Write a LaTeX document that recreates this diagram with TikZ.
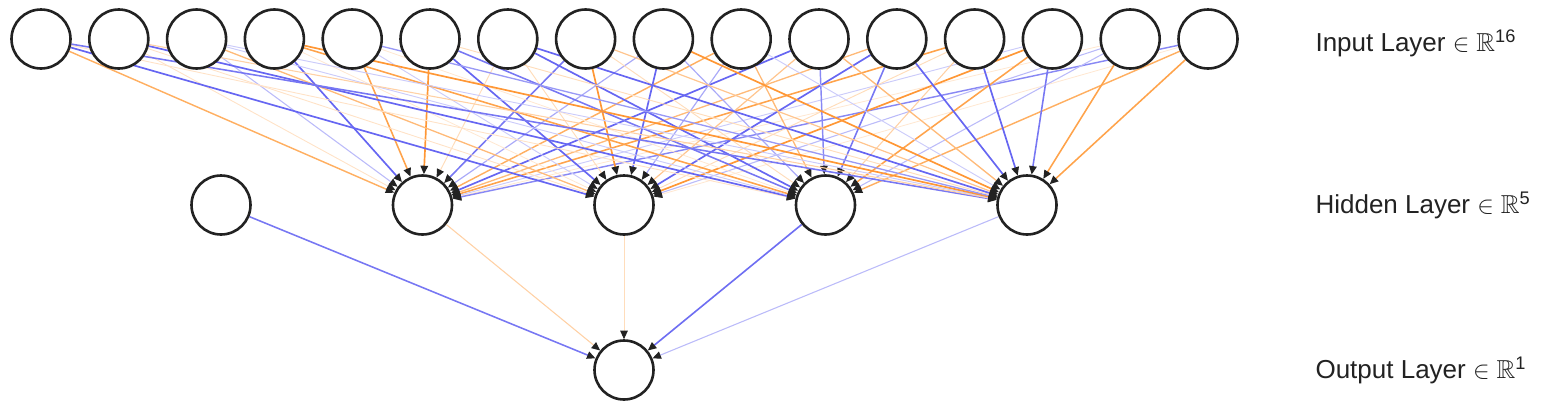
\documentclass[tikz,border=0pt]{standalone}
\usepackage{fontspec}
\setmainfont{Liberation Sans}
\usepackage{amssymb}
\usetikzlibrary{positioning,arrows.meta}
\definecolor{wpos}{RGB}{255,140,30}
\definecolor{wneg}{RGB}{85,85,240}
\definecolor{inkgray}{RGB}{34,34,34}
\pgfdeclarelayer{edges}
\pgfsetlayers{edges,main}

\begin{document}
\begin{tikzpicture}[x=1pt, y=-1pt,
    neuron/.style={circle, draw=inkgray, line width=2.6pt, fill=white,
                   minimum size=59pt, inner sep=0pt},
    wgt/.style={-{Triangle[length=8.5pt,width=7.5pt,color=inkgray]}},
    lay/.style={anchor=west, font=\fontsize{26}{30}\selectfont, text=inkgray}]
    \useasboundingbox (0,0) rectangle (1550,410);
    % layers
    \foreach \i in {1,...,16}
      \node[neuron] (in\i) at ({41+77.8*(\i-1)},39) {};
    \foreach \j in {1,...,5}
      \node[neuron] (hid\j) at ({221+201.5*(\j-1)},205) {};
    \node[neuron] (out) at (624,370) {};
    \node[lay] (lin)  at (1312,43)  {Input Layer $\in\mathbb{R}$\textsuperscript{16}};
    \node[lay] (lhid) at (1312,205) {Hidden Layer $\in\mathbb{R}$\textsuperscript{5}};
    \node[lay] (lout) at (1312,370) {Output Layer $\in\mathbb{R}$\textsuperscript{1}};
    % weights, input -> hidden
    \begin{pgfonlayer}{edges}
    \foreach \i/\j/\c/\p in {
        1/2/wpos/70, 2/2/wpos/25, 3/2/wneg/40, 4/2/wneg/90, 5/2/wpos/80, 6/2/wpos/90, 7/2/wpos/30, 8/2/wneg/80,
        9/2/wneg/50, 10/2/wpos/70, 11/2/wneg/90, 12/2/wpos/60, 13/2/wpos/80, 14/2/wneg/30, 15/2/wpos/20, 16/2/wneg/70,
        1/3/wneg/90, 2/3/wpos/25, 3/3/wpos/60, 4/3/wpos/20, 5/3/wneg/30, 6/3/wneg/90, 7/3/wpos/30, 8/3/wpos/90,
        9/3/wneg/90, 10/3/wneg/50, 11/3/wpos/50, 12/3/wneg/90, 13/3/wpos/30, 14/3/wpos/90, 15/3/wneg/40, 16/3/wpos/20,
        1/4/wpos/25, 2/4/wneg/90, 3/4/wneg/30, 4/4/wpos/80, 5/4/wpos/20, 6/4/wneg/80, 7/4/wneg/90, 8/4/wpos/30,
        9/4/wneg/50, 10/4/wpos/60, 11/4/wneg/70, 12/4/wneg/80, 13/4/wpos/40, 14/4/wpos/80, 15/4/wneg/40, 16/4/wpos/70,
        1/5/wneg/80, 2/5/wpos/40, 3/5/wneg/30, 4/5/wpos/90, 5/5/wneg/60, 6/5/wpos/30, 7/5/wneg/90, 8/5/wpos/50,
        9/5/wpos/90, 10/5/wneg/30, 11/5/wpos/60, 12/5/wneg/90, 13/5/wneg/90, 14/5/wneg/80, 15/5/wpos/80, 16/5/wpos/80}
    {
      \pgfmathsetmacro\lw{0.6+0.012*\p}
      \draw[wgt, draw=\c!\p!white, line width=\lw pt] (in\i) -- (hid\j);
    }
    % hidden -> output
    \foreach \j/\c/\p in {1/wneg/80, 2/wpos/40, 3/wpos/30, 4/wneg/85, 5/wneg/40}
    {
      \pgfmathsetmacro\lw{0.6+0.012*\p}
      \draw[wgt, draw=\c!\p!white, line width=\lw pt] (hid\j) -- (out);
    }
    \end{pgfonlayer}
\end{tikzpicture}
\end{document}
